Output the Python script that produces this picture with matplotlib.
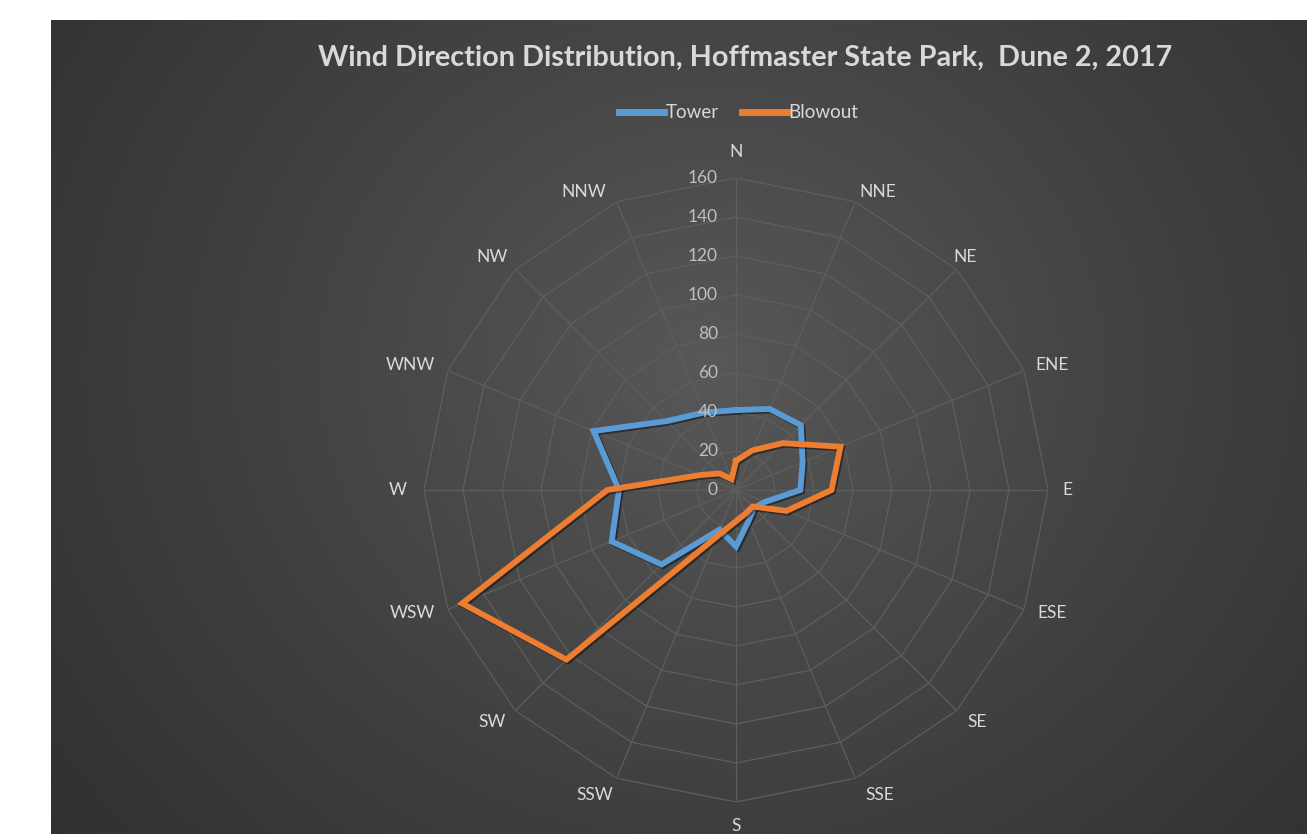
import numpy as np
import matplotlib
matplotlib.use('Agg')
import matplotlib.pyplot as plt
import matplotlib.patheffects as pe

# wind direction counts
dirs = ['N', 'NNE', 'NE', 'ENE', 'E', 'ESE', 'SE', 'SSE',
        'S', 'SSW', 'SW', 'WSW', 'W', 'WNW', 'NW', 'NNW']
tower = [41, 45, 47, 37, 33, 16, 13, 17, 29, 22, 54, 69, 60, 79, 50, 43]
blowout = [15, 22, 34, 58, 49, 28, 12, 13, 16, 26, 123, 152, 66, 20, 12, 6]
rings = [20, 40, 60, 80, 100, 120, 140, 160]
rlabels = [0, 20, 40, 60, 80, 100, 120, 140, 160]

# pixel offsets of the direction labels from the outer ring corners
lab_off = [(0, -26), (22, -10), (8, -12), (28, -6), (19, 0), (28, 4), (20, 11), (24, 17),
           (0, 24), (-22, 17), (-23, 11), (-35, 4), (-26, 0), (-37, -6), (-23, -12), (-33, -10)]

plt.rcParams['font.family'] = ['Lato', 'DejaVu Sans']

W, H = 1307, 834
fig = plt.figure(figsize=(W / 100, H / 100), dpi=100)
fig.patch.set_facecolor('white')

# dark radial background, white strip left and top
bg = fig.add_axes([51 / W, 0, (W - 51) / W, (H - 20) / H])
bg.set_axis_off()
yy, xx = np.mgrid[0:400, 0:600]
d = np.hypot((xx - 315) / 600.0, (yy - 170) / 560.0)
g = np.clip(1 - d / 0.8, 0, 1)
lo, hi = 0.17, 0.345
img = lo + (hi - lo) * g ** 1.2
bg.imshow(np.dstack([img, img, img]), aspect='auto', extent=[0, 1, 0, 1], origin='upper')

R = 312
cx, cy = 736, 490
ax = fig.add_axes([(cx - R) / W, (H - cy - R) / H, 2 * R / W, 2 * R / H], projection='polar')
ax.set_facecolor('none')
ax.set_theta_zero_location('N')
ax.set_theta_direction(-1)
ax.set_ylim(0, 160)
ax.spines['polar'].set_visible(False)
ax.grid(False)
ax.set_xticks([])
ax.set_yticks([])

theta = np.deg2rad(np.arange(len(dirs)) * 360.0 / len(dirs))
tc = np.append(theta, theta[0])

gridc = '#5e5e5e'
for v in rings:
    ax.plot(tc, [v] * len(tc), color=gridc, lw=0.9, zorder=1)
for t in theta:
    ax.plot([t, t], [0, 160], color=gridc, lw=0.9, zorder=1)

shadow = [pe.SimpleLineShadow(offset=(1.2, -1.2), shadow_color='black', alpha=0.45), pe.Normal()]
ax.plot(tc, tower + tower[:1], color='#5B9BD5', lw=4.2, solid_joinstyle='miter',
        label='Tower', zorder=3, path_effects=shadow)
ax.plot(tc, blowout + blowout[:1], color='#ED7D31', lw=4.2, solid_joinstyle='miter',
        label='Blowout', zorder=4, path_effects=shadow)

for t, name, (ox, oy) in zip(theta, dirs, lab_off):
    ax.annotate(name, xy=(t, 160), xytext=(ox * 0.72, -oy * 0.72), textcoords='offset points',
                ha='center', va='center', fontsize=12.5, color='#d9d9d9')

for v in rlabels:
    ax.annotate(str(v), xy=(0, v), xytext=(-13, 0), textcoords='offset points',
                ha='right', va='center', fontsize=12.5, color='#bfbfbf')

fig.text(745 / W, 1 - 58 / H, 'Wind Direction Distribution, Hoffmaster State Park,  Dune 2, 2017',
         ha='center', va='center', fontsize=20.7, fontweight='bold', color='#d9d9d9')

leg = fig.legend(loc='center', bbox_to_anchor=(739 / W, 1 - 113 / H), ncol=2, frameon=False,
                 fontsize=13.5, handlelength=2.4, handletextpad=0.1, columnspacing=1.2,
                 labelcolor='#d9d9d9')
for h in leg.get_lines():
    h.set_linewidth(5)
    h.set_path_effects([])

fig.savefig('out.png', dpi=100, facecolor=fig.get_facecolor())
